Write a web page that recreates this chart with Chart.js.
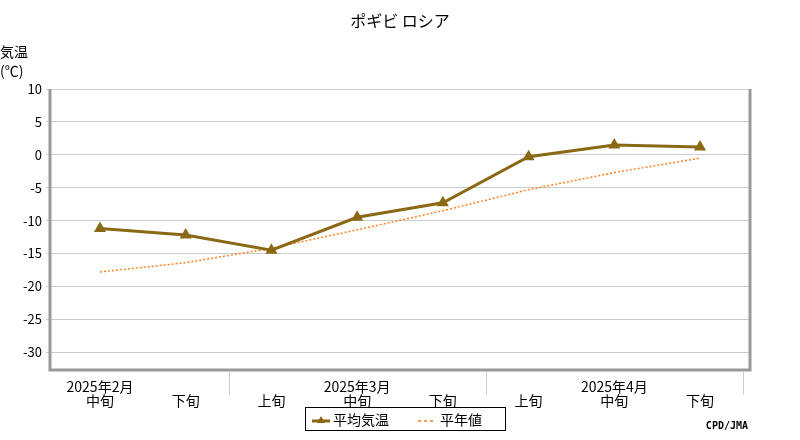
<!DOCTYPE html><html><head><meta charset="utf-8">
<script src="https://cdn.jsdelivr.net/npm/chart.js@4"></script>
<style>body{margin:0;background:#fff}#c{width:800px;height:440px}</style></head><body>
<div id="c"><canvas id="cv" width="800" height="440"></canvas></div>
<script>
const categories=["中旬","下旬","上旬","中旬","下旬","上旬","中旬","下旬"];
const monthLabels=["2025年2月","","","2025年3月","","","2025年4月",""];
const meanTemp=[-11.2,-12.2,-14.5,-9.5,-7.3,-0.3,1.5,1.2];
const normalTemp=[-17.8,-16.4,-14.2,-11.4,-8.5,-5.3,-2.7,-0.5];
const yTicks=[10,5,0,-5,-10,-15,-20,-25,-30];
const FONT='"Noto Sans CJK JP", sans-serif';
const deco={id:'deco',afterDraw(c){
 const g=c.ctx,a=c.chartArea;g.save();
 g.strokeStyle='#999';g.lineWidth=3;g.beginPath();g.moveTo(a.left,a.top);g.lineTo(a.left,a.bottom);g.lineTo(a.right,a.bottom);g.lineTo(a.right,a.top);g.stroke();
 g.strokeStyle='#ccc';g.lineWidth=1;const xs=c.scales.x;
 [1.5,4.5,7.5].forEach(v=>{const x=Math.round(xs.getPixelForValue(v))+0.5;g.beginPath();g.moveTo(x,a.bottom+2);g.lineTo(x,a.bottom+25);g.stroke();});
 g.fillStyle='#000';g.font='16px '+FONT;g.textAlign='center';g.textBaseline='middle';
 g.fillText('ポギビ ロシア',400,21);
 g.font='14px '+FONT;g.textAlign='left';g.fillText('気温',0,52);g.fillText('(℃)',0,71);
 g.strokeStyle='#000';g.lineWidth=1;g.strokeRect(305.5,407.5,200,23);
 g.strokeStyle='#8B6914';g.lineWidth=3;g.beginPath();g.moveTo(312,421);g.lineTo(330,421);g.stroke();
 g.fillStyle='#8B6914';g.beginPath();g.moveTo(321,416);g.lineTo(325,423);g.lineTo(317,423);g.fill();
 g.fillStyle='#000';g.fillText('平均気温',333,420);
 g.strokeStyle='#ff8020';g.lineWidth=1.5;g.setLineDash([3,3]);g.beginPath();g.moveTo(418,421);g.lineTo(436,421);g.stroke();g.setLineDash([]);
 g.fillText('平年値',440,420);
 g.font='bold 10px "DejaVu Sans Mono", monospace';g.textAlign='right';g.fillText('CPD/JMA',748,426);
 g.restore();}};
new Chart(document.getElementById('cv'),{type:'line',
 data:{datasets:[
  {label:'平均気温',data:meanTemp.map((v,i)=>({x:i,y:v})),borderColor:'#8B6914',backgroundColor:'#8B6914',borderWidth:3,pointStyle:'triangle',pointRadius:4,tension:0},
  {label:'平年値',data:normalTemp.map((v,i)=>({x:i,y:v})),borderColor:'#ff8020',borderWidth:1.5,borderDash:[2,2],pointRadius:0,tension:0}]},
 options:{responsive:false,animation:false,layout:{padding:{top:89,right:50,left:0,bottom:0}},
  plugins:{legend:{display:false},tooltip:{enabled:false}},
  scales:{
   x:{type:'linear',min:-0.583,max:7.583,afterBuildTicks(s){s.ticks=categories.map((_,i)=>({value:i}));},
    afterFit(s){s.height=70;},grid:{display:false},border:{display:false},
    ticks:{autoSkip:false,maxRotation:0,padding:2,color:'#000',font:{family:FONT,size:14,lineHeight:1.0},callback:(v)=>[monthLabels[v],categories[v]]}},
   y:{min:-32.7,max:10,afterBuildTicks(s){s.ticks=yTicks.map(v=>({value:v}));},afterFit(s){s.width=50;},
    grid:{color:'#ccc',drawTicks:true,tickLength:4},border:{display:false},
    ticks:{color:'#000',font:{family:FONT,size:13},padding:4}}}},
 plugins:[deco]});
</script></body></html>
